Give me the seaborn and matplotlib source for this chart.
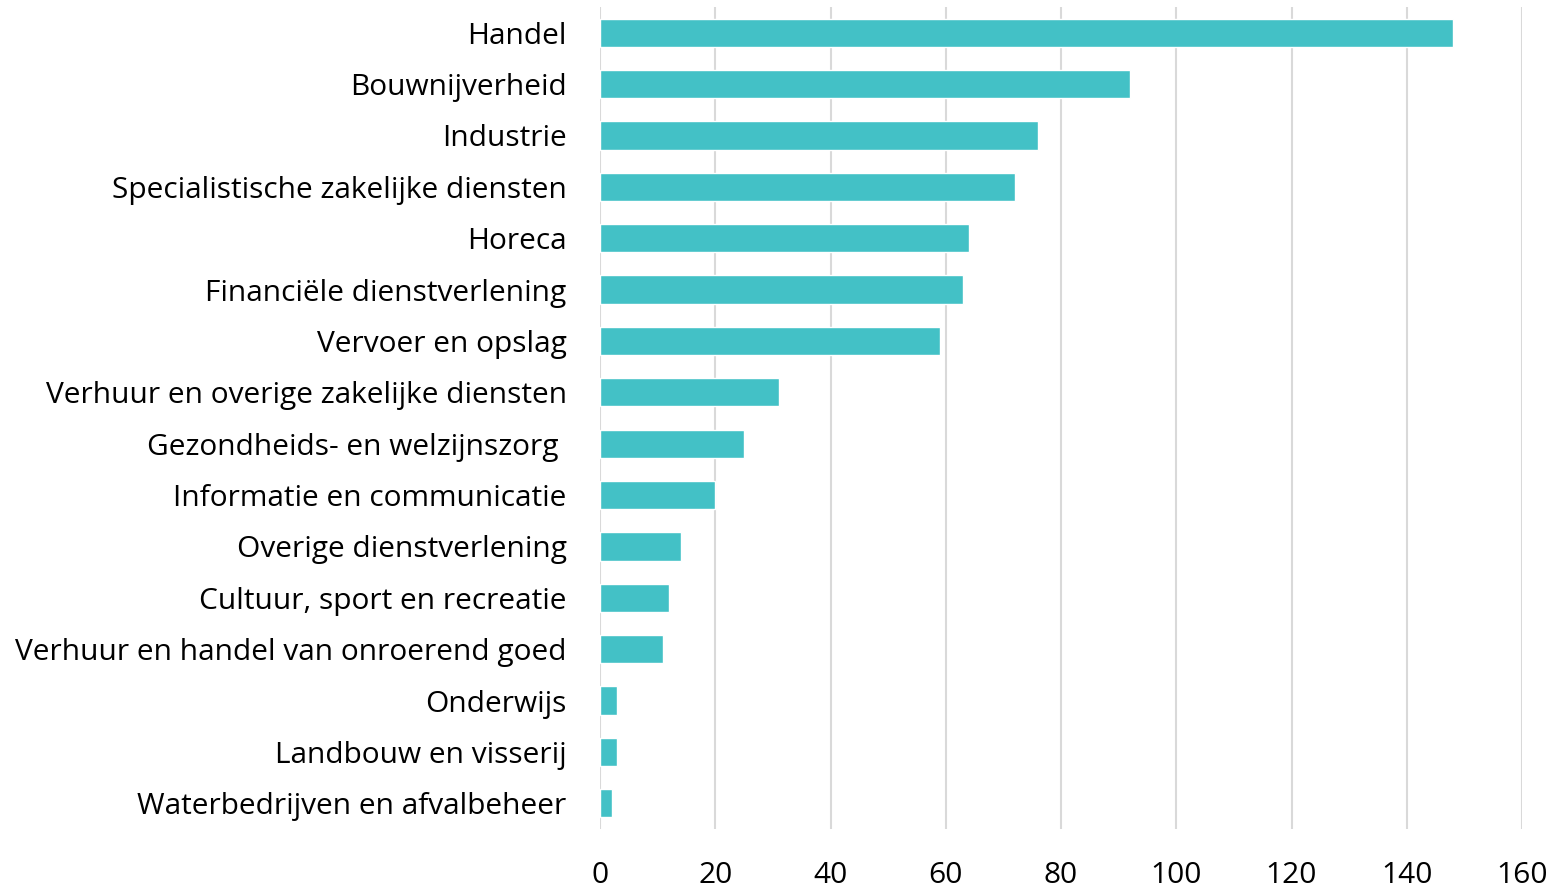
import matplotlib
matplotlib.use("Agg")
import matplotlib.pyplot as plt
import seaborn as sns
import pandas as pd

# sectors and counts
sectors = [
    "Handel",
    "Bouwnijverheid",
    "Industrie",
    "Specialistische zakelijke diensten",
    "Horeca",
    "Financiële dienstverlening",
    "Vervoer en opslag",
    "Verhuur en overige zakelijke diensten",
    "Gezondheids- en welzijnszorg ",
    "Informatie en communicatie",
    "Overige dienstverlening",
    "Cultuur, sport en recreatie",
    "Verhuur en handel van onroerend goed",
    "Onderwijs",
    "Landbouw en visserij",
    "Waterbedrijven en afvalbeheer",
]
counts = [148, 92, 76, 72, 64, 63, 59, 31, 25, 20, 14, 12, 11, 3, 3, 2]
xticks = [0, 20, 40, 60, 80, 100, 120, 140, 160]

df = pd.DataFrame({"sector": sectors, "count": counts})

sns.set_theme(style="white")
plt.rcParams['font.family'] = ['Open Sans', 'DejaVu Sans']

fig, ax = plt.subplots(figsize=(15.47, 8.88), dpi=100)
fig.subplots_adjust(left=600/1547, right=1522/1547, top=1-7/888, bottom=1-829/888)

sns.barplot(data=df, y="sector", x="count", orient="h", color="#43C1C6",
            saturation=1, width=0.55, ax=ax)

ax.set_xlim(0, 160)
ax.set_xticks(xticks)
ax.grid(axis="x", color="#D9D9D9", linewidth=1.5)
ax.set_axisbelow(True)
for s in ax.spines.values():
    s.set_visible(False)
ax.set_xlabel("")
ax.set_ylabel("")
ax.tick_params(axis="y", length=0, pad=24, labelsize=21.5, colors="black")
ax.tick_params(axis="x", length=0, pad=23, labelsize=21.5, colors="black")
for lbl in ax.get_yticklabels():
    lbl.set_verticalalignment("center_baseline")

plt.savefig("out.png", dpi=100)
